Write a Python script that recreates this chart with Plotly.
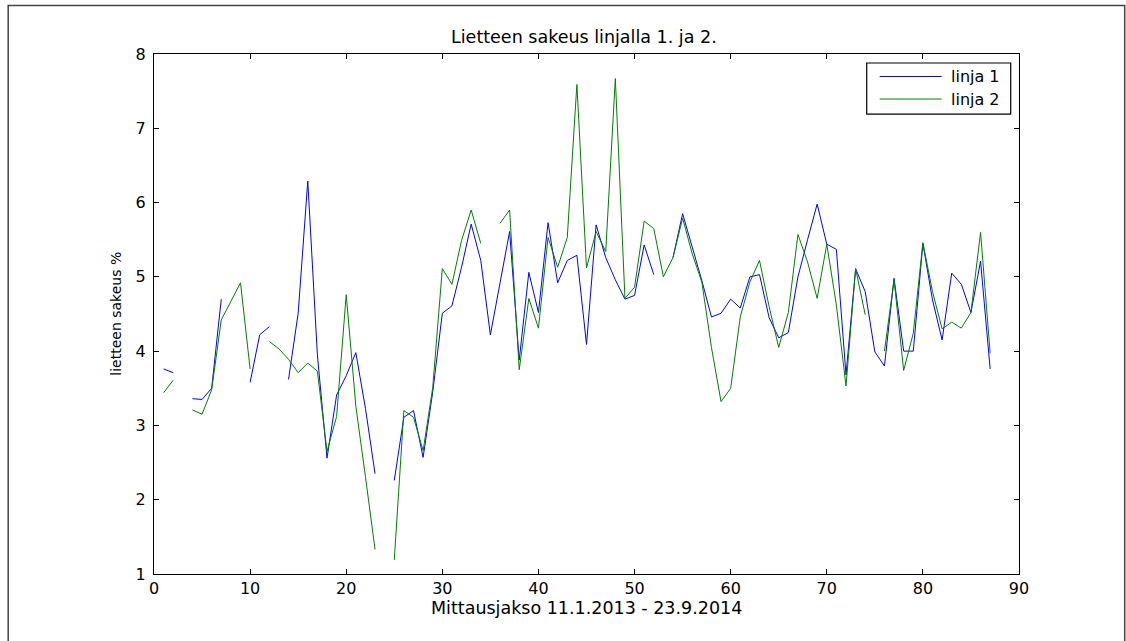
import plotly.graph_objects as go

x_vals = list(range(1, 88))

linja1 = [3.76, 3.71, None, 3.36, 3.35, 3.50, 4.70, None, None, 3.58,
          4.22, 4.33, None, 3.62, 4.51, 6.29, 3.95, 2.56, 3.41, 3.67,
          3.98, 3.23, 2.35, None, 2.26, 3.11, 3.20, 2.57, 3.45, 4.51,
          4.61, 5.13, 5.71, 5.22, 4.22, 4.91, 5.61, 3.88, 5.06, 4.52,
          5.73, 4.92, 5.22, 5.29, 4.09, 5.70, 5.26, 4.96, 4.70, 4.75,
          5.43, 5.03, None, 5.26, 5.85, 5.40, 4.95, 4.46, 4.51, 4.70,
          4.58, 5.00, 5.03, 4.45, 4.18, 4.25, 5.00, 5.50, 5.98, 5.44,
          5.37, 3.68, 5.11, 4.80, 3.99, 3.80, 4.98, 4.00, 4.00, 5.45,
          4.69, 4.15, 5.05, 4.90, 4.52, 5.21, 3.76]

linja2 = [3.44, 3.61, None, 3.21, 3.15, 3.48, 4.42, 4.67, 4.92, 3.76,
          None, 4.13, 4.03, 3.89, 3.71, 3.84, 3.73, 2.65, 3.12, 4.76,
          3.26, 2.31, 1.33, None, 1.19, 3.20, 3.11, 2.66, 3.51, 5.11,
          4.90, 5.49, 5.90, 5.45, None, 5.72, 5.90, 3.75, 4.71, 4.31,
          5.53, 5.13, 5.53, 7.59, 5.12, 5.61, 5.34, 7.67, 4.71, 4.86,
          5.75, 5.65, 5.00, 5.26, 5.79, 5.31, 4.93, 4.05, 3.32, 3.50,
          4.46, 4.93, 5.22, 4.60, 4.05, 4.52, 5.57, 5.20, 4.71, 5.44,
          4.62, 3.53, 5.11, 4.49, None, 4.00, 4.96, 3.74, 4.24, 5.46,
          4.80, 4.30, 4.39, 4.31, 4.52, 5.60, 3.97]

series_names = ["linja 1", "linja 2"]
series_colors = ["#0000FF", "#008000"]

title_text = "Lietteen sakeus linjalla 1. ja 2."
x_title = "Mittausjakso 11.1.2013 - 23.9.2014"
y_title = "lietteen sakeus %"

W, H = 1126, 641
L, R, T, B = 154.3, 1019.3, 54.0, 573.7
pw, ph = R - L, B - T

def px(xp):
    return (xp - L) / pw

def py(yp):
    return (B - yp) / ph

FONT = "DejaVu Sans, Liberation Sans, Arial"

fig = go.Figure()
for name, vals, col in zip(series_names, [linja1, linja2], series_colors):
    fig.add_trace(go.Scatter(x=x_vals, y=vals, mode="lines", name=name,
                             line=dict(color=col, width=1),
                             connectgaps=False, showlegend=False))

axis_common = dict(showline=True, linecolor="black", linewidth=1.2,
                   mirror="ticks", ticks="inside", ticklen=5, tickcolor="black",
                   tickwidth=1, showgrid=False, zeroline=False,
                   tickfont=dict(family=FONT, size=16, color="black"))

fig.update_xaxes(range=[0, 90], dtick=10, tick0=0, **axis_common)
fig.update_yaxes(range=[1, 8], dtick=1, tick0=1, ticklabelstandoff=4, **axis_common)

shapes = []
annotations = []

# outer figure border
shapes.append(dict(type="rect", xref="paper", yref="paper",
                   x0=px(8.5), x1=px(1125), y0=py(5.5), y1=py(700),
                   line=dict(color="#444444", width=1.5), fillcolor="rgba(0,0,0,0)"))

# legend box (manual, MATLAB style)
shapes.append(dict(type="rect", xref="paper", yref="paper",
                   x0=px(867), x1=px(1011), y0=py(63), y1=py(114),
                   line=dict(color="black", width=1.2), fillcolor="white", layer="above"))
for i, (name, col) in enumerate(zip(series_names, series_colors)):
    yy = 76.5 + i * 22.5
    shapes.append(dict(type="line", xref="paper", yref="paper",
                       x0=px(880), x1=px(942), y0=py(yy), y1=py(yy),
                       line=dict(color=col, width=1), layer="above"))
    annotations.append(dict(xref="paper", yref="paper", x=px(949), y=py(yy),
                            text=name, showarrow=False, xanchor="left", yanchor="middle",
                            font=dict(family=FONT, size=16, color="black")))

annotations.append(dict(xref="paper", yref="paper", x=px(584), y=py(37.5),
                        text=title_text, showarrow=False, xanchor="center", yanchor="middle",
                        font=dict(family=FONT, size=17.5, color="black")))
annotations.append(dict(xref="paper", yref="paper", x=px(587), y=py(608),
                        text=x_title, showarrow=False, xanchor="center", yanchor="middle",
                        font=dict(family=FONT, size=17.5, color="black")))
annotations.append(dict(xref="paper", yref="paper", x=px(116), y=0.5,
                        text=y_title, showarrow=False, xanchor="center", yanchor="middle",
                        textangle=-90,
                        font=dict(family=FONT, size=14, color="black")))

fig.update_layout(width=W, height=H,
                  margin=dict(l=L, r=W - R, t=T, b=H - B, pad=0),
                  paper_bgcolor="white", plot_bgcolor="white",
                  shapes=shapes, annotations=annotations, showlegend=False)

fig.write_html("out.html")
